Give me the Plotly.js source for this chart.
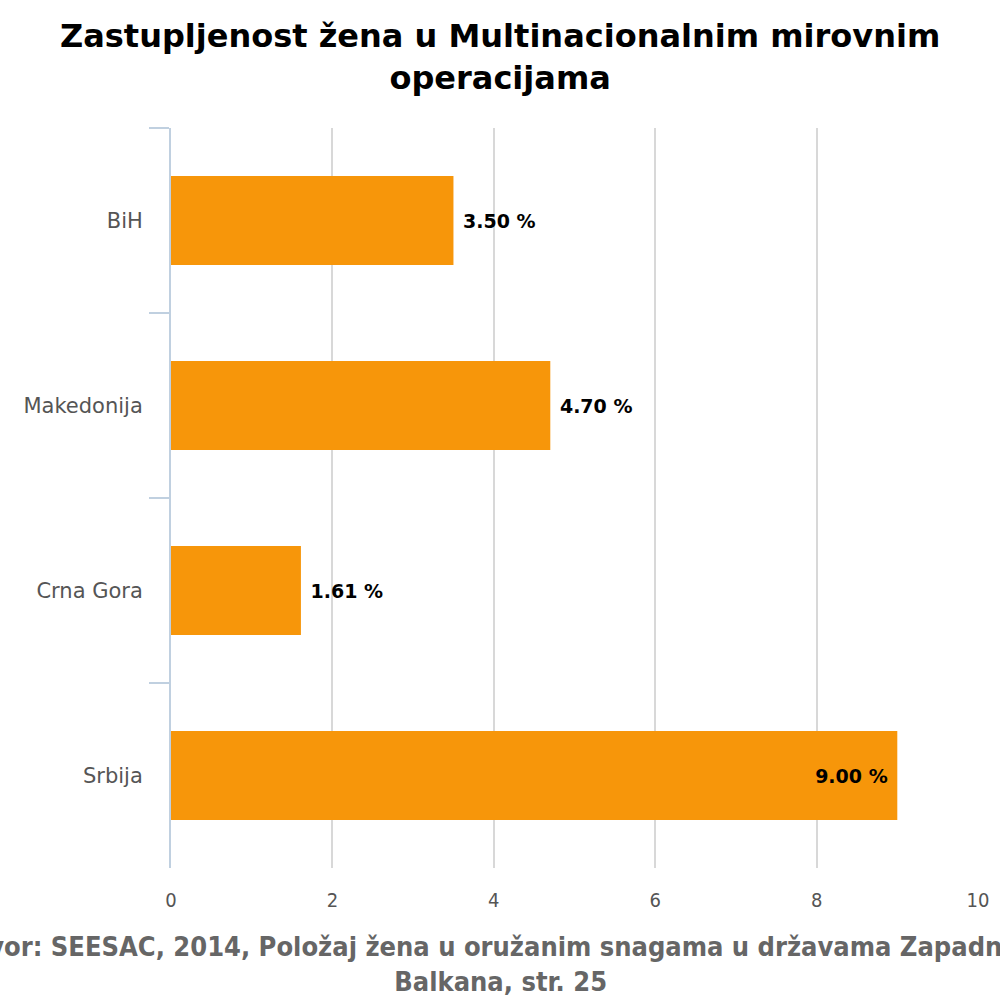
<!DOCTYPE html>
<html>
<head>
<meta charset="utf-8">
<script src="https://cdn.plot.ly/plotly-3.0.1.min.js"></script>
<style>
  body { margin: 0; }
  #chart { width: 1000px; height: 1000px; }
</style>
</head>
<body>
<div id="chart"></div>
<script>
// countries and their share of women (%)
var countries = ["BiH", "Makedonija", "Crna Gora", "Srbija"];
var shares = [3.5, 4.7, 1.61, 9.0];
var xTicks = [0, 2, 4, 6, 8, 10];

var trace1 = {
    type: "bar",
    orientation: "h",
    y: countries,
    x: shares,
    marker: { color: "#f7960a" },
    texttemplate: ["\u00a0%{x:.2f} %", "\u00a0%{x:.2f} %", "\u00a0%{x:.2f} %", "%{x:.2f} %\u00a0"],
    textposition: ["outside", "outside", "outside", "inside"],
    insidetextanchor: "end",
    outsidetextfont: { family: "DejaVu Sans", size: 19, color: "#000", weight: "bold" },
    insidetextfont: { family: "DejaVu Sans", size: 19, color: "#000", weight: "bold" },
    cliponaxis: false,
    hoverinfo: "none"
};

// plot spans x 171..978, y 128..868 in pixels
var layout = {
    width: 1000,
    height: 1000,
    margin: { l: 171, r: 22, t: 128, b: 132 },
    paper_bgcolor: "#fff",
    plot_bgcolor: "#fff",
    showlegend: false,
    bargap: 0.52,
    xaxis: {
        range: [0, 10],
        tickvals: xTicks,
        showgrid: true,
        gridcolor: "#d8d8d8",
        gridwidth: 2,
        zeroline: false,
        showline: false,
        ticks: "",
        ticklabelstandoff: 18,
        tickfont: { family: "DejaVu Sans Condensed", size: 20, color: "#555" }
    },
    yaxis: {
        autorange: "reversed",
        showline: true,
        linecolor: "#c0d0e0",
        linewidth: 2,
        ticks: "outside",
        tickson: "boundaries",
        ticklen: 20,
        tickwidth: 2,
        tickcolor: "#c0d0e0",
        showgrid: false,
        ticklabelstandoff: 22,
        tickfont: { family: "DejaVu Sans", size: 21, color: "#555" }
    },
    annotations: [{
        // title
        text: "<b>Zastupljenost žena u Multinacionalnim mirovnim<br>operacijama</b>",
        xref: "paper", yref: "paper",
        x: (500 - 171) / 807, xanchor: "center",
        y: (868 - 57) / 740, yanchor: "middle",
        showarrow: false,
        font: { family: "DejaVu Sans", size: 32, color: "#000" }
    }, {
        // source (wider than the page, cut at both sides like the original)
        text: "<b>Izvor: SEESAC, 2014, Položaj žena u oružanim snagama u državama Zapadnog<br>Balkana, str. 25</b>",
        xref: "paper", yref: "paper",
        x: (500 - 171) / 807, xanchor: "center",
        y: (868 - 964) / 740, yanchor: "middle",
        showarrow: false,
        font: { family: "DejaVu Sans Condensed", size: 27, color: "#666" }
    }]
};

Plotly.newPlot("chart", [trace1], layout, { displayModeBar: false });
</script>
</body>
</html>
